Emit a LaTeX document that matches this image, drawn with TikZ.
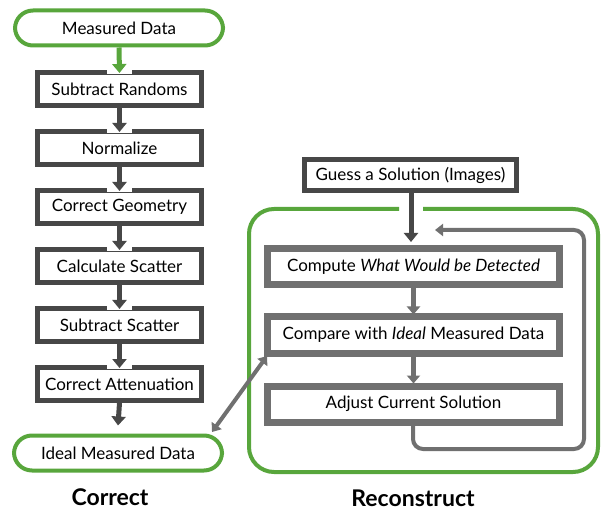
\documentclass[tikz,border=0pt]{standalone}
\usepackage{fontspec}
\setmainfont{Lato}
\usetikzlibrary{arrows.meta,calc}
\definecolor{grn}{HTML}{58A63C}
\definecolor{dk}{HTML}{474747}
\definecolor{md}{HTML}{707070}
\begin{document}
\begin{tikzpicture}[x=1pt,y=-1pt,
  txt/.style={font=\fontsize{17}{19}\selectfont},
  lbox/.style={txt,draw=dk,line width=5pt,fill=white,minimum width=164pt,minimum height=33pt,inner sep=0pt},
  gbox/.style={txt,draw=grn,line width=4pt,fill=white,rounded corners=18pt,minimum width=208pt,minimum height=35pt,inner sep=0pt},
  rbox/.style={txt,draw=md,line width=7pt,fill=white,minimum width=292pt,minimum height=36pt,inner sep=0pt},
  darr/.style={draw=dk,line width=5pt,-{Triangle[width=14pt,length=9pt]}},
  garr/.style={draw=grn,line width=5pt,-{Triangle[width=14pt,length=9pt]}},
  marr/.style={draw=md,line width=5pt,-{Triangle[width=13pt,length=8pt]}},
  loop/.style={draw=md,line width=4pt,-{Triangle[width=12pt,length=8pt]}},
  gap/.style={fill=white},
  lab/.style={font=\bfseries\fontsize{23}{26}\selectfont}]
\useasboundingbox (0,0) rectangle (602,510);
% left column
\node[gbox] (md) at (119,28) {Measured Data};
\node[lbox] (sr) at (119.5,89) {Subtract Randoms};
\node[lbox] (no) at (119.5,148) {Normalize};
\node[lbox] (cg) at (119.5,207) {Correct Geometry};
\node[lbox] (cs) at (119.5,266) {Calculate Scatter};
\node[lbox] (ss) at (119.5,325) {Subtract Scatter};
\node[lbox] (ca) at (119.5,384) {Correct Attenuation};
\node[gbox] (im) at (118,453) {Ideal Measured Data};
\node[lab] (lc) at (110,497) {Correct};
% gaps and arrows
\foreach \b in {sr,no,cg,cs,ss,ca}{
  \fill[gap] ($(\b.north)+(-12.5,-4)$) rectangle ($(\b.north)+(12.5,4)$);
}
\draw[garr] (md.south) -- ($(sr.north)+(0,3)$);
\draw[darr] (sr.south) -- ($(no.north)+(0,3)$);
\draw[darr] (no.south) -- ($(cg.north)+(0,3)$);
\draw[darr] (cg.south) -- ($(cs.north)+(0,3)$);
\draw[darr] (cs.south) -- ($(ss.north)+(0,3)$);
\draw[darr] (ss.south) -- ($(ca.north)+(0,3)$);
\draw[darr] (ca.south) -- ($(im.north)+(0,-8)$);
% right region
\draw[grn,line width=4pt,rounded corners=25pt] (423,209) -- (598,209) -- (598,472) -- (249,472) -- (249,209) -- (399,209);
\node[txt,draw=dk,line width=5pt,fill=white,minimum width=212pt,minimum height=31pt,inner sep=0pt] (gs) at (410.5,175) {Guess a Solution (Images)};
\node[rbox] (cw) at (413.5,267) {Compute \textit{What Would be Detected}};
\node[rbox] (cp) at (413.5,335) {Compare with \textit{Ideal} Measured Data};
\node[rbox] (ad) at (413.5,404) {Adjust Current Solution};
\node[lab] (lr) at (413,498) {Reconstruct};
\coordinate (gx) at (411,242);
\draw[darr] (gs.south -| gx) -- (gx);
\draw[marr] (cw.south) -- ($(cp.north)+(0,1)$);
\draw[marr] (cp.south) -- ($(ad.north)+(0,1)$);
\coordinate (l1) at (413,449);
\coordinate (l2) at (584,449);
\coordinate (l3) at (584,230);
\coordinate (l4) at (435,230);
\draw[loop,rounded corners=10pt] (ad.south -| l1) -- (l1) -- (l2) -- (l3) -- (l4);
\coordinate (d1) at (212,432);
\coordinate (d2) at (267,356);
\draw[draw=md,line width=4pt,{Triangle[width=12pt,length=8pt]}-{Triangle[width=12pt,length=8pt]}] (d1) -- (d2);
\end{tikzpicture}
\end{document}
